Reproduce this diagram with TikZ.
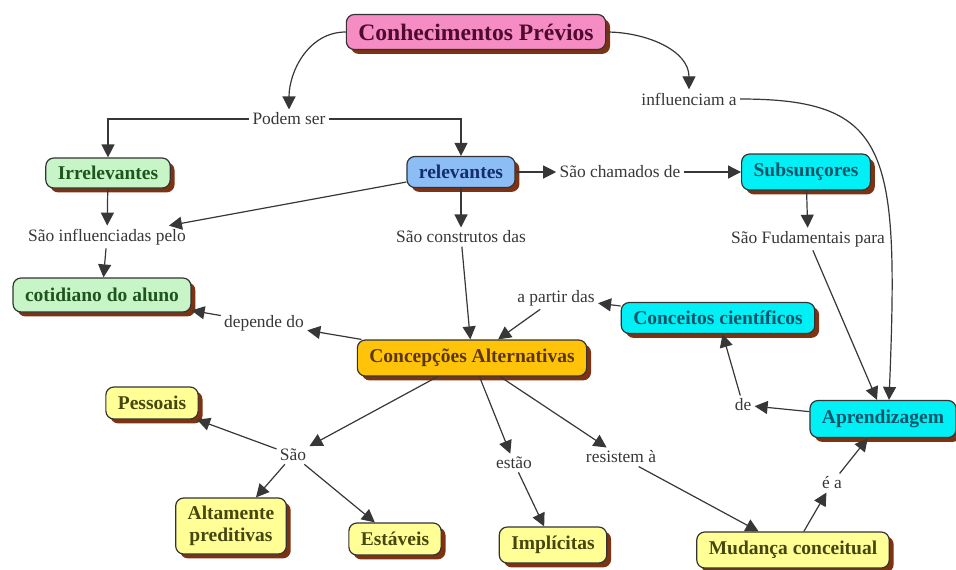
\documentclass[tikz,border=0pt]{standalone}
\usepackage{fontspec}
\setmainfont{Liberation Serif}
\usetikzlibrary{arrows.meta,shadows}

\definecolor{pinkfill}{RGB}{245,140,195}
\definecolor{pinktext}{RGB}{80,10,45}
\definecolor{greenfill}{RGB}{200,245,200}
\definecolor{greentext}{RGB}{30,85,30}
\definecolor{bluefill}{RGB}{140,190,245}
\definecolor{bluetext}{RGB}{20,45,110}
\definecolor{cyanfill}{RGB}{0,240,245}
\definecolor{cyantext}{RGB}{10,85,105}
\definecolor{goldfill}{RGB}{255,195,10}
\definecolor{goldtext}{RGB}{90,55,0}
\definecolor{yellowfill}{RGB}{255,255,150}
\definecolor{yellowtext}{RGB}{70,70,15}
\definecolor{shadowbrown}{RGB}{125,50,20}
\definecolor{linkgray}{RGB}{55,55,55}

\begin{document}
\begin{tikzpicture}[x=0.5pt,y=-0.5pt,>={Triangle[length=6.5pt,width=6.5pt]},
  concept/.style={draw=black!80,line width=0.6pt,rounded corners=4pt,inner xsep=6pt,inner ysep=2pt,minimum height=17pt,
    font=\fontsize{9.75}{11}\selectfont\bfseries,
    drop shadow={shadow xshift=2.2pt,shadow yshift=-2.2pt,fill=shadowbrown,opacity=1}},
  linkword/.style={inner sep=1.5pt,font=\fontsize{8.7}{10}\selectfont,text=linkgray},
  link/.style={->,draw=linkgray,line width=0.6pt}]
\useasboundingbox (0,0) rectangle (956,569);
% concepts
\path (476,32) node (conhec) [concept,fill=pinkfill,text=pinktext,minimum height=17.5pt,font=\fontsize{11.8}{13}\selectfont\bfseries] {Conhecimentos Prévios};
\path (108,173) node (irrel) [concept,fill=greenfill,text=greentext,minimum height=15pt] {Irrelevantes};
\path (461,172) node (relev) [concept,fill=bluefill,text=bluetext,minimum height=15.5pt] {relevantes};
\path (806,172) node (subs) [concept,fill=cyanfill,text=cyantext,minimum height=18pt] {Subsunçores};
\path (102,295) node (cotid) [concept,fill=greenfill,text=greentext] {cotidiano do aluno};
\path (718,318) node (cientif) [concept,fill=cyanfill,text=cyantext,minimum height=15.5pt] {Conceitos científicos};
\path (472,358) node (concep) [concept,fill=goldfill,text=goldtext,minimum height=18pt] {Concepções Alternativas};
\path (883,419) node (aprend) [concept,fill=cyanfill,text=cyantext,minimum height=18.5pt] {Aprendizagem};
\path (152,403) node (pessoais) [concept,fill=yellowfill,text=yellowtext,minimum height=16pt] {Pessoais};
\path (231,526) node (altam) [concept,fill=yellowfill,text=yellowtext,align=center,minimum height=28pt] {Altamente\\preditivas};
\path (395,539) node (estaveis) [concept,fill=yellowfill,text=yellowtext,minimum height=16pt] {Estáveis};
\path (553,545) node (implic) [concept,fill=yellowfill,text=yellowtext,minimum height=18pt] {Implícitas};
\path (793,550) node (mudanca) [concept,fill=yellowfill,text=yellowtext,minimum height=18pt] {Mudança conceitual};
% linking words
\path (289,119) node (podem) [linkword] {Podem ser};
\path (689,99) node (influenc) [linkword] {influenciam a};
\path (620,172) node (chamados) [linkword] {São chamados de};
\path (107,237) node (infpelo) [linkword] {São influenciadas pelo};
\path (461,237) node (construt) [linkword] {São construtos das};
\path (808,239) node (fundam) [linkword] {São Fudamentais para};
\path (556,298) node (partir) [linkword] {a partir das};
\path (264,323) node (depende) [linkword] {depende do};
\path (743,405) node (de) [linkword] {de};
\path (293,455) node (sao) [linkword] {São};
\path (514,463) node (estao) [linkword] {estão};
\path (621,457) node (resistem) [linkword] {resistem à};
\path (832,483) node (ea) [linkword] {é a};

\draw [link] (conhec.west) to[out=180,in=90] (podem.north);
\draw [link] (conhec.east) to[out=0,in=90] (influenc.north);
\draw [link] (podem.west) -| (irrel.north);
\draw [link] (podem.east) -| (relev.north);
\draw [link] (influenc.east) .. controls +(150,0) and +(10,-250) .. ([xshift=3pt]aprend.north);
\draw [link] (relev) to (chamados);
\draw [link] (chamados) to (subs);
\draw [link] (relev) to (infpelo);
\draw [link] (relev) to (construt);
\draw [link] (irrel) to (infpelo);
\draw [link] (infpelo) to (cotid);
\draw [link] (construt) to (concep);
\draw [link] (subs) to (fundam);
\draw [link] (fundam) to ([xshift=-3pt]aprend.north);
\draw [link] (concep) to (depende);
\draw [link] (depende) to (cotid);
\draw [link] (cientif) to (partir);
\draw [link] (partir) to (concep);
\draw [link] (aprend) to (de);
\draw [link] (de) to (cientif);
\draw [link] (concep) to (sao);
\draw [link] (sao) to (pessoais);
\draw [link] (sao) to (altam);
\draw [link] (sao) to (estaveis);
\draw [link] (concep) to (estao);
\draw [link] (estao) to (implic);
\draw [link] (concep) to (resistem);
\draw [link] (resistem) to (mudanca);
\draw [link] (mudanca) to (ea);
\draw [link] (ea) to (aprend);
\end{tikzpicture}
\end{document}
